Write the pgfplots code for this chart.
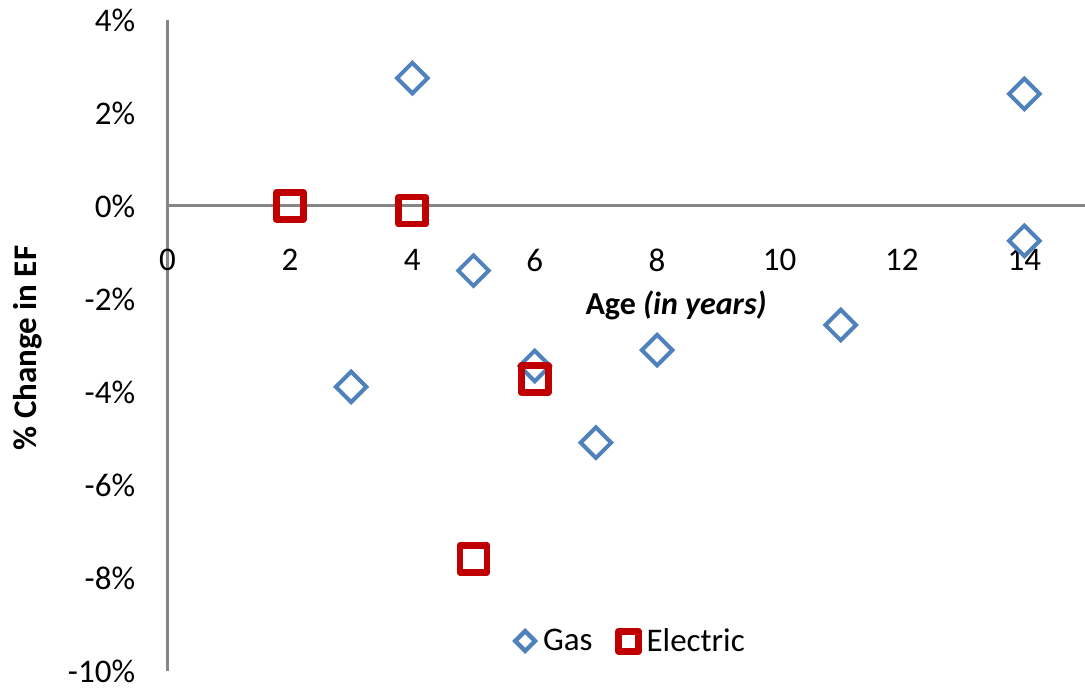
\documentclass[border=0pt]{standalone}
\usepackage{fontspec}
\setmainfont{Carlito}
\usepackage{pgfplots}
\pgfplotsset{compat=1.18}
\definecolor{gasblue}{HTML}{4F81BD}
\definecolor{elecred}{HTML}{C00000}
\definecolor{axgray}{HTML}{868686}

\pgfplotsset{
    gas legend/.style={legend image code/.code={%
        \draw[mark=square, mark size=3.5pt, mark options={rotate=45, draw=gasblue, line width=2.2pt, fill=none}]
            plot coordinates {(0pt,0pt)};}},
    elec legend/.style={legend image code/.code={%
        \draw[mark=square, mark size=5pt, mark options={draw=elecred, line width=3.5pt, line join=round, fill=none}]
            plot coordinates {(0pt,0pt)};}},
}

\begin{document}
\begin{tikzpicture}
\path[use as bounding box] (0pt,0pt) rectangle (542.5pt,344pt);
\begin{axis}[
    at={(83.75pt,8.5pt)}, anchor=south west,
    scale only axis,
    width=459pt, height=325.5pt,
    xmin=0, xmax=15, ymin=-10, ymax=4,
    axis x line=middle, axis y line=left,
    axis line style={draw=axgray, line width=1.5pt, -},
    hide obscured x ticks=false,
    hide obscured y ticks=false,
    major tick length=0pt,
    xtick={0,2,...,14},
    xticklabels={0,2,4,6,8,10,12,14},
    ytick={-10,-8,...,4},
    yticklabels={-10\%,-8\%,-6\%,-4\%,-2\%,0\%,2\%,4\%},
    xticklabel style={font=\fontsize{16.5}{19}\selectfont, anchor=north, inner sep=0pt, yshift=-21.5pt},
    yticklabel style={font=\fontsize{16.5}{19}\selectfont, anchor=east, inner sep=0pt, xshift=-16pt},
    xlabel={\bfseries Age \textit{(in years)}},
    xlabel style={font=\fontsize{16}{19}\selectfont, at={(rel axis cs:0.554,0.562)}, anchor=center},
    ylabel={\bfseries\% Change in EF},
    ylabel style={font=\fontsize{16.5}{19}\selectfont, at={(rel axis cs:-0.152,0.496)}, anchor=center},
    legend style={at={(rel axis cs:0.506,0.046)}, anchor=center, draw=none, fill=none,
        legend columns=-1, font=\fontsize{16.5}{19}\selectfont,
        /tikz/every odd column/.append style={column sep=2pt},
        /tikz/every even column/.append style={column sep=11pt}},
    clip=false,
]
\addplot[only marks, mark=square, mark size=5.4pt,
    mark options={rotate=45, draw=gasblue, line width=2pt, fill=none}, gas legend]
coordinates {
    (3,-3.89) (4,2.75) (5,-1.39) (6,-3.44) (7,-5.09)
    (8,-3.10) (11,-2.56) (14,2.41) (14,-0.75)
};
\addlegendentry{Gas}
\addplot[only marks, mark=square, mark size=6.75pt,
    mark options={draw=elecred, line width=3.35pt, line join=round, fill=none}, elec legend]
coordinates {
    (2,0.0) (4,-0.10) (5,-7.59) (6,-3.72)
};
\addlegendentry{Electric}
\end{axis}
\end{tikzpicture}
\end{document}
